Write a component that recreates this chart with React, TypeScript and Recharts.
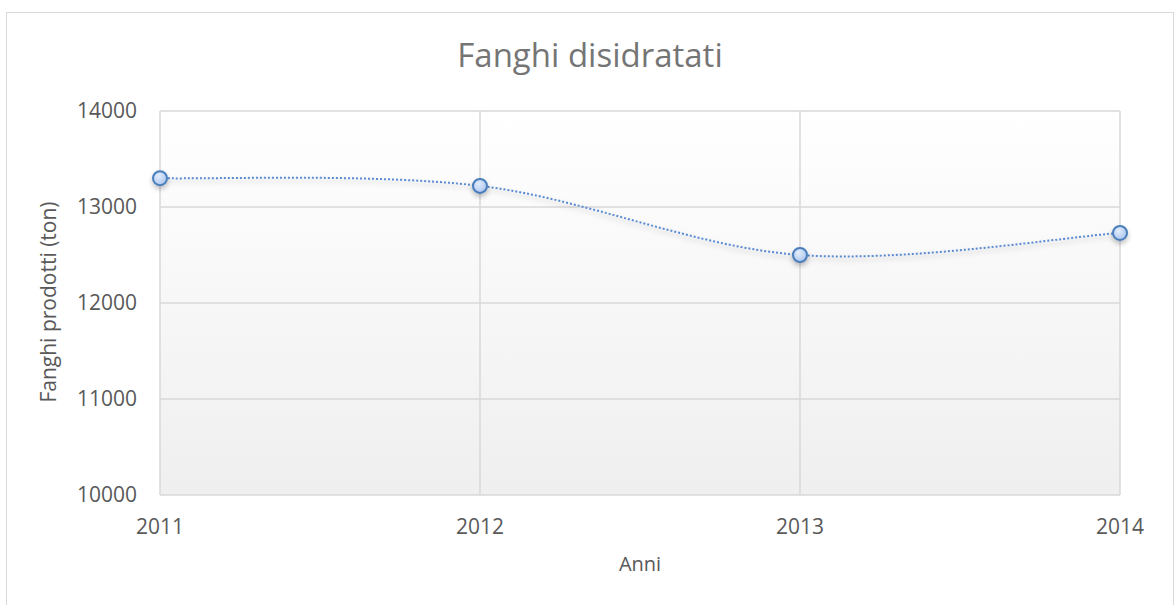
import React from "react";
import { LineChart, Line, XAxis, YAxis, CartesianGrid } from "recharts";

const years = ["2011", "2012", "2013", "2014"];
const sludgeTons = [13300, 13220, 12500, 12730];
const yTicks = [10000, 11000, 12000, 13000, 14000];

const data = years.map((year, i) => ({ year, value: sludgeTons[i] }));

const FONT = "'Open Sans', 'Liberation Sans', sans-serif";
const TEXT = "#595959";

// Excel-style smoothed line (catmull-rom like bezier, ends duplicated)
function excelSmooth(context: any) {
  let pts: number[][] = [];
  return {
    areaStart() {},
    areaEnd() {},
    lineStart() {
      pts = [];
    },
    lineEnd() {
      const n = pts.length;
      if (!n) return;
      context.moveTo(pts[0][0], pts[0][1]);
      for (let i = 0; i < n - 1; i++) {
        const p0 = pts[i - 1] || pts[i];
        const p1 = pts[i];
        const p2 = pts[i + 1];
        const p3 = pts[i + 2] || p2;
        context.bezierCurveTo(
          p1[0] + (p2[0] - p0[0]) / 6,
          p1[1] + (p2[1] - p0[1]) / 6,
          p2[0] - (p3[0] - p1[0]) / 6,
          p2[1] - (p3[1] - p1[1]) / 6,
          p2[0],
          p2[1]
        );
      }
    },
    point(x: number, y: number) {
      pts.push([+x, +y]);
    },
  };
}

export default function App() {
  return (
    <div
      style={{
        position: "absolute",
        left: 0,
        top: 0,
        width: 1176,
        height: 605,
        overflow: "hidden",
        background: "#fff",
        fontFamily: FONT,
      }}
    >
      <div
        style={{
          position: "absolute",
          left: 6,
          top: 12,
          width: 1166,
          height: 620,
          border: "1px solid #d9d9d9",
        }}
      />
      <LineChart
        width={1176}
        height={605}
        data={data}
        margin={{ top: 111, right: 56, bottom: 50, left: 0 }}
        style={{ position: "absolute", left: 0, top: 0 }}
      >
        <defs>
          <linearGradient id="plotBg" x1="0" y1="0" x2="0" y2="1">
            <stop offset="0%" stopColor="#ffffff" />
            <stop offset="100%" stopColor="#efefef" />
          </linearGradient>
          <radialGradient id="dotFill" cx="40%" cy="35%" r="70%">
            <stop offset="0%" stopColor="#e2ecfc" />
            <stop offset="100%" stopColor="#a9c4ef" />
          </radialGradient>
          <filter id="shadow" x="-50%" y="-50%" width="200%" height="200%">
            <feDropShadow dx="0" dy="3" stdDeviation="2.5" floodColor="#000" floodOpacity="0.25" />
          </filter>
        </defs>
        <CartesianGrid stroke="#d9d9d9" strokeWidth={1.5} fill="url(#plotBg)" fillOpacity={1} />
        <XAxis
          dataKey="year"
          height={60}
          axisLine={false}
          tickLine={false}
          tickSize={0}
          tickMargin={24}
          tick={{ fill: TEXT, fontSize: 21, fontFamily: FONT }}
        />
        <YAxis
          width={160}
          domain={[10000, 14000]}
          ticks={yTicks}
          axisLine={false}
          tickLine={false}
          tickSize={0}
          tickMargin={23}
          tick={{ fill: TEXT, fontSize: 21, fontFamily: FONT }}
        />
        <Line
          dataKey="value"
          type={excelSmooth as any}
          stroke="#5a8ad2"
          strokeWidth={2}
          strokeDasharray="2 2"
          filter="url(#shadow)"
          dot={{ r: 7, fill: "url(#dotFill)", stroke: "#4a7ebb", strokeWidth: 2, strokeDasharray: "0" }}
          activeDot={false}
          isAnimationActive={false}
        />
      </LineChart>
      <svg
        width={1176}
        height={605}
        style={{ position: "absolute", left: 0, top: 0, pointerEvents: "none" }}
      >
        <text x={590} y={67} textAnchor="middle" fontSize={33} fill="#757575" fontFamily={FONT}>
          Fanghi disidratati
        </text>
        <text
          x={56}
          y={302}
          transform="rotate(-90 56 302)"
          textAnchor="middle"
          fontSize={21}
          fill={TEXT}
          fontFamily={FONT}
        >
          Fanghi prodotti (ton)
        </text>
        <text x={640} y={571} textAnchor="middle" fontSize={20} fill={TEXT} fontFamily={FONT}>
          Anni
        </text>
      </svg>
    </div>
  );
}
